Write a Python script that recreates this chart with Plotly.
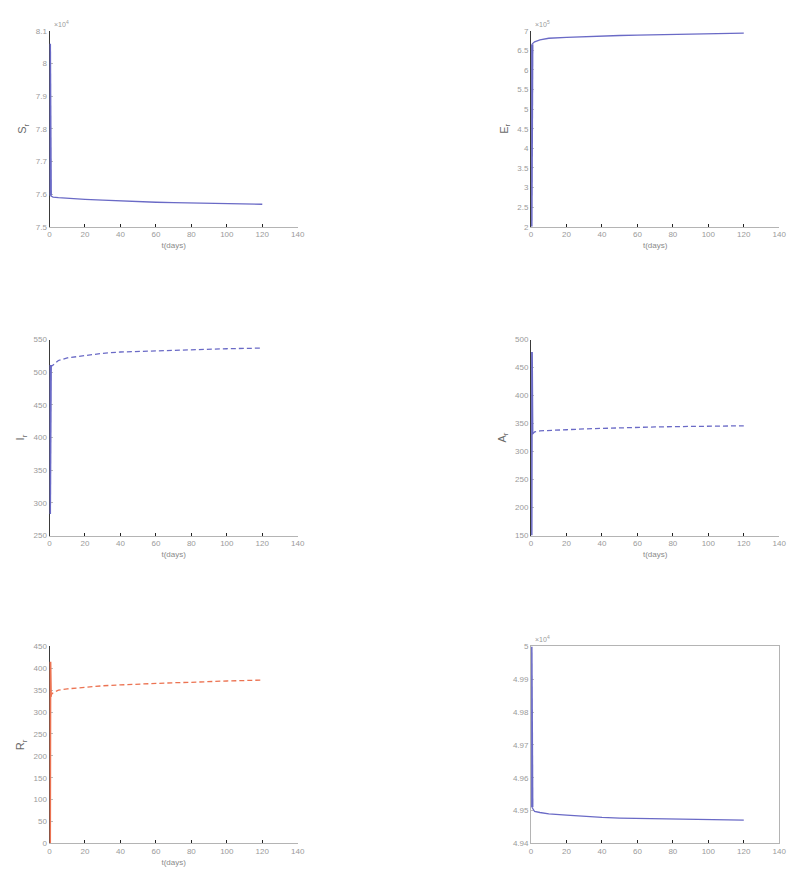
import plotly.graph_objects as go
from plotly.subplots import make_subplots

# time (days)
t = [0, 0.2, 0.5, 1, 2, 5, 10, 20, 30, 40, 50, 60, 70, 80, 90, 100, 110, 120]

S_r = [80600, 76100, 75950, 75930, 75910, 75890, 75870, 75840, 75815, 75790,
       75770, 75750, 75740, 75730, 75725, 75720, 75705, 75690]
E_r = [200000, 664000, 666000, 668000, 672000, 677000, 681000, 683000, 685000,
       687000, 688000, 689000, 690000, 691000, 691500, 692000, 693000, 694000]
I_r = [283, 497, 511, 509, 511, 518, 522, 526, 529, 531, 532, 533, 534, 534.5,
       535, 536, 536.5, 537]
A_r = [150, 478, 331, 333, 335, 337, 338, 339, 340.5, 341.5, 342.5, 344, 344,
       344.5, 345, 345.5, 346, 346]
R_r = [0, 415, 335, 340, 344, 350, 353, 357, 360, 362, 364, 366, 367, 368, 370,
       371, 372, 373]
N_r = [50000, 49520, 49510, 49505, 49497, 49494, 49490, 49486, 49482, 49479,
       49477, 49476, 49475, 49474, 49473.5, 49473, 49472, 49471]

BLUE = "#6a6ac6"
ORANGE = "#ec7352"
FONT = "Liberation Sans"
W, H = 799, 874
DASH = "5px,3px"

# (row, col, data, scale, y range, dtick, y title, x title, line colour, dash, box, exponent)
panels = [
    (1, 1, S_r, 1e4, [7.5, 8.1], 0.1, "S<sub>r</sub>", "t(days)", BLUE, "solid", False, "4"),
    (1, 2, E_r, 1e5, [2, 7], 0.5, "E<sub>r</sub>", "t(days)", BLUE, "solid", False, "5"),
    (2, 1, I_r, 1, [250, 550], 50, "I<sub>r</sub>", "t(days)", BLUE, DASH, False, None),
    (2, 2, A_r, 1, [150, 500], 50, "A<sub>r</sub>", "t(days)", BLUE, DASH, False, None),
    (3, 1, R_r, 1, [0, 450], 50, "R<sub>r</sub>", "t(days)", ORANGE, DASH, False, None),
    (3, 2, N_r, 1e4, [4.94, 5.0], 0.01, "", "", BLUE, "solid", True, "4"),
]

# plot boxes in pixels: x0, x1, y_top, y_bottom
xcols = {1: (40, 291), 2: (527, 778)}
yrows = {1: (19, 217), 2: (331, 529), 3: (641, 840)}

fig = make_subplots(rows=3, cols=2)

for i, (r, c, vals, sc, yr, dt, ytitle, xtitle, col, dash, box, ex) in enumerate(panels):
    ys = [v / sc for v in vals]
    # fast start-up transient along the y axis, drawn solid
    fig.add_trace(
        go.Scatter(x=t[:3], y=ys[:3], mode="lines",
                   line=dict(color=col, width=3), showlegend=False),
        row=r, col=c,
    )
    fig.add_trace(
        go.Scatter(x=t[2:], y=ys[2:], mode="lines",
                   line=dict(color=col, width=1.3, dash=dash), showlegend=False),
        row=r, col=c,
    )
    x0, x1 = xcols[c]
    yt, yb = yrows[r]
    n = "" if i == 0 else str(i + 1)
    fig.layout["xaxis" + n].update(
        domain=[x0 / W, x1 / W], range=[0, 140], dtick=20, layer="below traces",
        showline=True, linecolor="#b4b4b4", linewidth=1, mirror=box,
        ticks="inside", ticklen=3, tickcolor="#222", showgrid=False, zeroline=False,
        tickfont=dict(size=8, color="#9a9a9a", family=FONT),
        title=dict(text=xtitle, font=dict(size=8, color="#8a8a8a", family=FONT), standoff=4),
    )
    fig.layout["yaxis" + n].update(
        domain=[1 - yb / H, 1 - yt / H], range=yr, dtick=dt, layer="below traces",
        showline=True, linecolor="#3a3a3a" if not box else "#b4b4b4", linewidth=1, mirror=box,
        ticks="inside", ticklen=3, tickcolor="#bbb", showgrid=False, zeroline=False,
        tickfont=dict(size=8, color="#9a9a9a", family=FONT),
        title=dict(text=ytitle, font=dict(size=11, color="#6a6a6a", family=FONT), standoff=6),
    )
    if ex:
        fig.add_annotation(
            x=(x0 + 2) / W, y=1 - (yt - 1) / H, xref="paper", yref="paper",
            text="×10<sup>" + ex + "</sup>", showarrow=False, xanchor="left", yanchor="bottom",
            font=dict(size=7, color="#9a9a9a", family=FONT),
        )

fig.update_layout(
    width=W, height=H, margin=dict(l=0, r=0, t=0, b=0),
    paper_bgcolor="white", plot_bgcolor="white",
    font=dict(family=FONT),
)

fig.write_html("out.html")
